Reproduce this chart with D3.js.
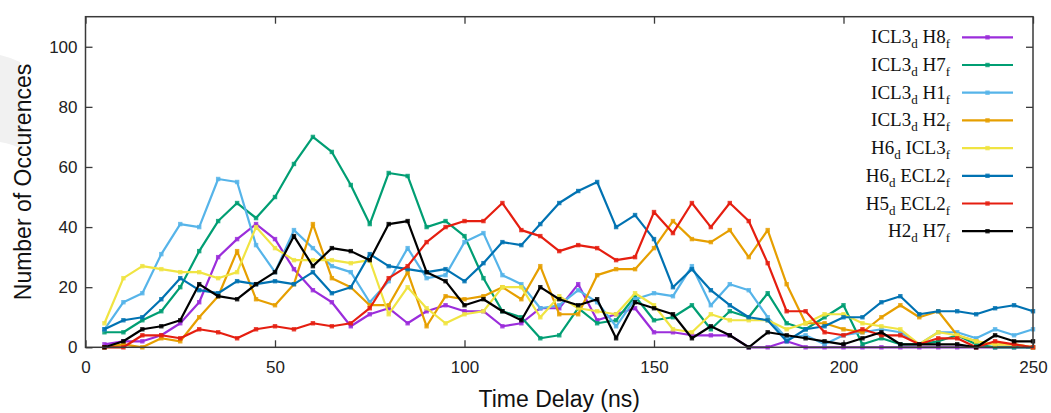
<!DOCTYPE html>
<html>
<head>
<meta charset="utf-8">
<script src="https://cdn.jsdelivr.net/npm/d3@7"></script>
<style>
  html, body { margin: 0; padding: 0; background: #fff; }
  svg { display: block; }
</style>
</head>
<body>
<svg id="chart" width="1051" height="413"></svg>
<script>
// Time delay samples (ns)
const timeDelay = d3.range(5, 251, 5);

// Occurrence counts per pair, one value per time delay
const icl3H8 = [1,2,2,4,8,15,30,36,41,36, 26,19,15,7,11,13,8,12,14,12, 12,7,8,13,13,21,9,11,13,5, 5,4,4,4,0,0,2,0,0,0, 0,0,0,0,0,0,0,0,0,0];
const icl3H7 = [5,5,9,12,20,32,42,48,43,50, 61,70,65,54,41,58,57,40,42,37, 23,12,10,3,4,13,8,9,17,9, 10,14,6,12,10,18,8,6,10,14, 1,3,1,1,2,4,1,0,0,0];
const icl3H1 = [6,15,18,31,41,40,56,55,34,25, 39,33,27,25,15,22,33,23,24,35, 38,24,21,13,14,19,15,7,16,18, 17,27,14,21,19,10,3,4,1,4, 5,6,5,1,5,5,3,6,4,6];
const icl3H2 = [0,1,0,3,2,10,17,32,16,14, 21,41,23,20,14,14,25,7,17,16, 17,20,16,27,11,11,24,26,26,33, 42,36,35,39,30,39,21,8,8,6, 5,10,14,10,12,4,2,1,1,0];
const h6Icl3 = [8,23,27,26,25,25,23,25,40,33, 29,29,29,28,29,11,20,13,8,11, 12,20,20,10,17,13,12,11,18,14, 6,5,11,9,9,9,6,8,11,11, 8,7,6,1,5,4,2,1,1,0];
const h6Ecl2 = [6,9,10,16,23,19,18,22,21,22, 21,25,18,20,31,27,26,25,26,22, 28,35,34,41,48,52,55,40,44,36, 20,26,19,14,10,9,2,6,7,10, 10,15,17,11,12,12,11,13,14,12];
const h5Ecl2 = [0,0,4,4,3,6,5,3,6,7, 6,8,7,8,13,23,27,35,40,42, 42,48,39,37,32,34,33,29,30,45, 38,48,40,48,42,28,12,12,5,4, 6,4,4,1,3,3,0,2,1,0];
const h2H7   = [0,2,6,7,9,21,17,16,21,25, 37,27,33,32,29,41,42,25,22,14, 16,12,9,20,16,14,16,3,15,13, 11,3,7,4,0,5,4,3,2,1, 3,5,1,1,1,1,0,4,2,2];

// Legend labels: "_" marks the subscript that follows
const seriesLabels = ["ICL3_d H8_f", "ICL3_d H7_f", "ICL3_d H1_f", "ICL3_d H2_f",
                      "H6_d ICL3_f", "H6_d ECL2_f", "H5_d ECL2_f", "H2_d H7_f"];
const seriesValues = [icl3H8, icl3H7, icl3H1, icl3H2, h6Icl3, h6Ecl2, h5Ecl2, h2H7];
const seriesColors = ["#9b2ddb", "#009e73", "#56b4e9", "#e69f00", "#f0e442", "#0072b2", "#e51e10", "#000000"];

const xTicks = [0, 50, 100, 150, 200, 250];
const yTicks = [0, 20, 40, 60, 80, 100];

const svg = d3.select("#chart");
const frame = { left: 85.5, right: 1033, top: 16.7, bottom: 347.3 };

const x = d3.scaleLinear().domain([0, 250]).range([frame.left, frame.right]);
const y = d3.scaleLinear().domain([0, 110]).range([frame.bottom, frame.top]);

const sans = "'Liberation Sans', Arial, Helvetica, sans-serif";
const serif = "'Liberation Serif', 'Times New Roman', serif";
const frameColor = "#3a3a3a";

// faint grey arc at the left edge of the page
svg.append("path")
  .attr("d", "M0,55 A95,95 0 0 1 20,62 L24,150 A80,80 0 0 0 0,142 Z")
  .attr("fill", "#f1f1f1");

// Axes: ticks point inward on all four sides
const tickLen = 7;
const axisBottomG = svg.append("g").attr("transform", `translate(0,${frame.bottom})`)
  .call(d3.axisBottom(x).tickValues(xTicks).tickSize(-tickLen).tickPadding(14).tickFormat(d3.format("d")));
const axisTopG = svg.append("g").attr("transform", `translate(0,${frame.top})`)
  .call(d3.axisTop(x).tickValues(xTicks).tickSize(-tickLen).tickFormat(""));
const axisLeftG = svg.append("g").attr("transform", `translate(${frame.left},0)`)
  .call(d3.axisLeft(y).tickValues(yTicks).tickSize(-tickLen).tickPadding(8).tickFormat(d3.format("d")));
const axisRightG = svg.append("g").attr("transform", `translate(${frame.right},0)`)
  .call(d3.axisRight(y).tickValues(yTicks).tickSize(-tickLen).tickFormat(""));

[axisBottomG, axisTopG, axisLeftG, axisRightG].forEach(g => {
  g.select(".domain").remove();
  g.selectAll(".tick line").attr("stroke", frameColor).attr("stroke-width", 1.3);
  g.selectAll(".tick text").attr("fill", "#222").style("font-family", sans).style("font-size", "17px");
});
// mirrored axes carry no labels
[axisTopG, axisRightG].forEach(g => g.selectAll(".tick text").remove());

// Series lines with square markers
const line = d3.line().x((d, i) => x(timeDelay[i])).y(d => y(d));
const plot = svg.append("g");
seriesValues.forEach((vals, s) => {
  const g = plot.append("g");
  g.append("path").datum(vals)
    .attr("d", line)
    .attr("fill", "none")
    .attr("stroke", seriesColors[s])
    .attr("stroke-width", 2.2)
    .attr("stroke-linejoin", "round");
  g.selectAll("rect").data(vals).join("rect")
    .attr("x", (d, i) => x(timeDelay[i]) - 2.2)
    .attr("y", d => y(d) - 2.2)
    .attr("width", 4.4).attr("height", 4.4)
    .attr("fill", seriesColors[s]).attr("opacity", 0.85);
});

// Frame
svg.append("rect")
  .attr("x", frame.left).attr("y", frame.top)
  .attr("width", frame.right - frame.left).attr("height", frame.bottom - frame.top)
  .attr("fill", "none").attr("stroke", frameColor).attr("stroke-width", 1.5);

// Axis titles
svg.append("text")
  .attr("x", (frame.left + frame.right) / 2).attr("y", 407)
  .attr("text-anchor", "middle")
  .style("font-family", sans).style("font-size", "23px").attr("fill", "#111")
  .text("Time Delay (ns)");
svg.append("text")
  .attr("transform", `translate(31,${(frame.top + frame.bottom) / 2}) rotate(-90)`)
  .attr("text-anchor", "middle")
  .style("font-family", sans).style("font-size", "23px").attr("fill", "#111")
  .text("Number of Occurences");

// Legend
const legendRow = d3.scaleLinear().domain([0, 1]).range([37.3, 65]);
const legend = svg.append("g");
seriesLabels.forEach((label, i) => {
  const yy = legendRow(i);
  const t = legend.append("text")
    .attr("x", 950).attr("y", yy + 6)
    .attr("text-anchor", "end")
    .style("font-family", serif).style("font-size", "19px").attr("fill", "#111");
  label.split(" ").forEach((p, k) => {
    const [main, sub] = p.split("_");
    t.append("tspan").attr("dy", k > 0 ? -5 : 0).text((k > 0 ? " " : "") + main);
    t.append("tspan").attr("dy", 5).style("font-size", "13px").text(sub);
  });
  legend.append("line")
    .attr("x1", 962).attr("x2", 1013).attr("y1", yy).attr("y2", yy)
    .attr("stroke", seriesColors[i]).attr("stroke-width", 2.2);
  legend.append("rect")
    .attr("x", 987.5 - 2.2).attr("y", yy - 2.2).attr("width", 4.4).attr("height", 4.4)
    .attr("fill", seriesColors[i]).attr("opacity", 0.85);
});
</script>
</body>
</html>
